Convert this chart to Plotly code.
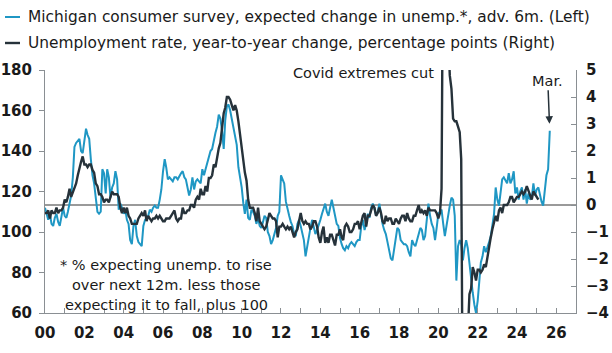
import pandas as pd
import plotly.graph_objects as go

# ---------------- data ----------------
# Michigan survey: expected change in unemployment (index, left axis), advanced 6 months
mich_2000 = [112, 108, 106, 109, 104, 103, 107, 109, 105, 103, 108, 112]
mich_2001 = [108, 107, 110, 114, 118, 127, 142, 144, 145, 146, 140, 139]
mich_2002 = [145, 151, 148, 146, 136, 128, 124, 116, 110, 109, 110, 131]
mich_2003 = [129, 119, 131, 127, 117, 122, 124, 130, 126, 111, 114, 112]
mich_2004 = [109, 111, 106, 104, 96, 94, 103, 106, 98, 95, 94, 93]
mich_2005 = [103, 106, 107, 108, 111, 110, 112, 113, 112, 112, 116, 121]
mich_2006 = [130, 136, 132, 126, 127, 126, 125, 127, 127, 126, 128, 129]
mich_2007 = [130, 127, 126, 122, 118, 121, 127, 121, 125, 126, 125, 124]
mich_2008 = [131, 128, 131, 134, 136, 140, 141, 146, 149, 152, 158, 156]
mich_2009 = [150, 141, 155, 162, 163, 160, 156, 152, 147, 143, 132, 128]
mich_2010 = [122, 114, 109, 116, 107, 106, 111, 110, 108, 104, 107, 103]
mich_2011 = [102, 105, 108, 107, 100, 98, 94, 96, 99, 102, 108, 110]
mich_2012 = [128, 126, 124, 115, 111, 108, 105, 103, 99, 98, 104, 106]
mich_2013 = [103, 100, 96, 88, 93, 96, 102, 106, 103, 99, 101, 103]
mich_2014 = [106, 109, 112, 114, 110, 108, 112, 116, 112, 108, 104, 103]
mich_2015 = [97, 94, 92, 91, 93, 92, 94, 95, 94, 93, 95, 96]
mich_2016 = [96, 103, 106, 101, 104, 109, 107, 112, 114, 112, 108, 110]
mich_2017 = [114, 108, 104, 101, 99, 95, 90, 87, 86, 92, 96, 102]
mich_2018 = [101, 96, 95, 94, 94, 93, 90, 88, 96, 94, 93, 96]
mich_2019 = [100, 102, 101, 96, 98, 106, 114, 108, 104, 102, 96, 102]
mich_2020 = [109, 110, 111, 104, 98, 103, 109, 113, 117, 116, 108, 76]
mich_2021 = [93, 96, 94, 86, 92, 96, 92, 84, 78, 70, 64, 60]
mich_2022 = [66, 76, 85, 88, 93, 90, 92, 95, 98, 104, 109, 122]
mich_2023 = [116, 113, 118, 126, 127, 125, 124, 129, 124, 126, 130, 119]
mich_2024 = [122, 116, 120, 122, 116, 121, 114, 119, 116, 117, 124, 118]
mich_2025 = [121, 122, 118, 115, 113, 121, 128, 131, 150]

# Unemployment rate, year-to-year change, percentage points (right axis)
unemp_2000 = [-0.3, -0.3, -0.2, -0.5, -0.2, -0.3, -0.3, -0.1, -0.3, -0.2, -0.2, -0.1]
unemp_2001 = [0.2, 0.1, 0.3, 0.6, 0.3, 0.5, 0.6, 0.8, 1.1, 1.4, 1.6, 1.8]
unemp_2002 = [1.5, 1.5, 1.4, 1.5, 1.5, 1.3, 1.2, 0.8, 0.7, 0.4, 0.4, 0.3]
unemp_2003 = [0.1, 0.2, 0.2, 0.1, 0.3, 0.5, 0.4, 0.4, 0.4, 0.3, -0.1, -0.3]
unemp_2004 = [-0.1, -0.3, -0.1, -0.4, -0.5, -0.7, -0.7, -0.7, -0.7, -0.5, -0.4, -0.3]
unemp_2005 = [-0.4, -0.2, -0.6, -0.4, -0.5, -0.6, -0.5, -0.5, -0.4, -0.5, -0.4, -0.5]
unemp_2006 = [-0.6, -0.6, -0.5, -0.5, -0.5, -0.4, -0.3, -0.2, -0.5, -0.6, -0.5, -0.5]
unemp_2007 = [-0.1, -0.3, -0.3, -0.2, -0.2, 0.0, 0.0, -0.1, 0.2, 0.3, 0.2, 0.6]
unemp_2008 = [0.4, 0.4, 0.7, 0.5, 1.0, 1.0, 1.1, 1.5, 1.4, 1.8, 2.1, 2.3]
unemp_2009 = [2.8, 3.4, 3.6, 4.0, 4.0, 3.9, 3.7, 3.5, 3.7, 3.5, 3.1, 2.6]
unemp_2010 = [2.0, 1.5, 1.2, 0.9, 0.2, -0.1, -0.1, -0.1, -0.3, -0.6, -0.1, -0.6]
unemp_2011 = [-0.7, -0.8, -0.9, -0.8, -0.6, -0.3, -0.4, -0.5, -0.5, -0.6, -1.2, -0.8]
unemp_2012 = [-0.8, -0.7, -0.8, -0.9, -0.8, -0.9, -0.8, -1.0, -1.2, -1.0, -0.9, -0.6]
unemp_2013 = [-0.3, -0.6, -0.7, -0.6, -0.7, -0.7, -0.9, -0.8, -0.6, -0.6, -0.8, -1.2]
unemp_2014 = [-1.4, -1.0, -0.8, -1.4, -1.2, -1.4, -1.1, -1.1, -1.3, -1.5, -1.1, -1.1]
unemp_2015 = [-0.9, -1.2, -1.3, -0.8, -0.7, -0.8, -1.0, -1.0, -0.9, -0.7, -0.7, -0.6]
unemp_2016 = [-0.9, -0.6, -0.4, -0.3, -0.8, -0.4, -0.4, -0.2, 0.0, -0.1, -0.4, -0.3]
unemp_2017 = [-0.1, -0.3, -0.6, -0.7, -0.4, -0.6, -0.5, -0.5, -0.7, -0.7, -0.5, -0.6]
unemp_2018 = [-0.7, -0.5, -0.4, -0.4, -0.6, -0.3, -0.5, -0.6, -0.6, -0.4, -0.4, -0.2]
unemp_2019 = [0.0, -0.3, -0.2, -0.3, -0.2, -0.4, -0.1, -0.2, -0.2, -0.2, -0.2, -0.3]
unemp_2020 = [-0.5, -0.3, 0.6, 11.1, 9.6, 7.4, 6.5, 4.8, 4.3, 3.2, 3.1, 3.1]
unemp_2021 = [2.9, 2.7, 1.7, -8.7, -7.4, -5.1, -4.8, -3.3, -3.1, -2.3, -2.5, -2.8]
unemp_2022 = [-2.4, -2.4, -2.5, -2.4, -2.2, -2.3, -1.9, -1.5, -1.2, -0.9, -0.6, -0.4]
unemp_2023 = [-0.6, -0.2, -0.1, -0.3, 0.0, 0.0, 0.0, 0.1, 0.3, 0.3, 0.1, 0.2]
unemp_2024 = [0.3, 0.3, 0.4, 0.5, 0.4, 0.5, 0.7, 0.5, 0.3, 0.2, 0.5, 0.4]
unemp_2025 = [0.3, 0.2]

tick_years = [2000, 2002, 2004, 2006, 2008, 2010, 2012, 2014, 2016, 2018, 2020, 2022, 2024, 2026]
tick_labels = ["00", "02", "04", "06", "08", "10", "12", "14", "16", "18", "20", "22", "24", "26"]

mich_name = "Michigan consumer survey, expected change in unemp.*, adv. 6m. (Left)"
unemp_name = "Unemployment rate, year-to-year change, percentage points (Right)"
footnote_lines = ["* % expecting unemp. to rise", "over next 12m. less those",
                  "expecting it to fall, plus 100"]

# ---------------- assemble ----------------
mich = sum([mich_2000, mich_2001, mich_2002, mich_2003, mich_2004, mich_2005, mich_2006,
            mich_2007, mich_2008, mich_2009, mich_2010, mich_2011, mich_2012, mich_2013,
            mich_2014, mich_2015, mich_2016, mich_2017, mich_2018, mich_2019, mich_2020,
            mich_2021, mich_2022, mich_2023, mich_2024, mich_2025], [])
unemp = sum([unemp_2000, unemp_2001, unemp_2002, unemp_2003, unemp_2004, unemp_2005,
             unemp_2006, unemp_2007, unemp_2008, unemp_2009, unemp_2010, unemp_2011,
             unemp_2012, unemp_2013, unemp_2014, unemp_2015, unemp_2016, unemp_2017,
             unemp_2018, unemp_2019, unemp_2020, unemp_2021, unemp_2022, unemp_2023,
             unemp_2024, unemp_2025], [])
mich_dates = pd.date_range("2000-01-01", periods=len(mich), freq="MS")
unemp_dates = pd.date_range("2000-01-01", periods=len(unemp), freq="MS")

BLUE = "#1f97c4"
DARK = "#26323a"
TXT = "#1a1a1a"
AXC = "#8a8f93"
FONT = "DejaVu Sans"

W, H = 612, 353
ML, MR, MT, MB = 45, 36, 70, 40
PW, PH = W - ML - MR, H - MT - MB


def px(xp):
    return (xp - ML) / PW


def py(yp):
    return (H - MB - yp) / PH


fig = go.Figure()
fig.add_trace(go.Scatter(x=unemp_dates, y=unemp, yaxis="y2", mode="lines",
                         line=dict(color=DARK, width=2.4), name=unemp_name, showlegend=False))
fig.add_trace(go.Scatter(x=mich_dates, y=mich, yaxis="y", mode="lines",
                         line=dict(color=BLUE, width=2), name=mich_name, showlegend=False))

annotations = [
    dict(x=px(26), y=py(17), xref="paper", yref="paper", text=mich_name, showarrow=False,
         xanchor="left", yanchor="middle", font=dict(size=15.4, color=TXT, family=FONT)),
    dict(x=px(26), y=py(43), xref="paper", yref="paper", text=unemp_name, showarrow=False,
         xanchor="left", yanchor="middle", font=dict(size=15.4, color=TXT, family=FONT)),
    dict(x=px(363), y=py(73), xref="paper", yref="paper", text="Covid extremes cut",
         showarrow=False, xanchor="center", yanchor="middle",
         font=dict(size=14.5, color=TXT, family=FONT)),
    dict(x=mich_dates[-1], y=mich[-1], xref="x", yref="y", text="Mar.", showarrow=True,
         ax=-2, ay=-50, arrowhead=2, arrowsize=1, arrowwidth=1.5, arrowcolor=DARK,
         standoff=7, font=dict(size=14.5, color=TXT, family=FONT)),
]
for i, line in enumerate(footnote_lines):
    annotations.append(dict(x=px(166), y=py(265 + 20 * i), xref="paper", yref="paper",
                            text=line, showarrow=False, xanchor="center", yanchor="middle",
                            font=dict(size=14.5, color=TXT, family=FONT)))

shapes = [
    dict(type="line", xref="paper", yref="paper", x0=px(5), x1=px(20), y0=py(17), y1=py(17),
         line=dict(color=BLUE, width=2)),
    dict(type="line", xref="paper", yref="paper", x0=px(5), x1=px(20), y0=py(43), y1=py(43),
         line=dict(color=DARK, width=2.4)),
]

tickfont = dict(size=15, color=TXT, family=FONT, weight="bold")

fig.update_layout(
    width=W, height=H, autosize=False,
    margin=dict(l=ML, r=MR, t=MT, b=MB, pad=0),
    paper_bgcolor="white", plot_bgcolor="white",
    font=dict(family=FONT, color=TXT, size=16),
    showlegend=False,
    annotations=annotations, shapes=shapes,
    xaxis=dict(type="date", range=["2000-01-01", "2027-01-01"], automargin=False,
               tickvals=[pd.Timestamp(f"{y}-01-01") for y in tick_years], ticktext=tick_labels,
               ticks="inside", ticklen=5, tickcolor=AXC, showline=True, linecolor=AXC,
               linewidth=1, showgrid=False, zeroline=False, ticklabelstandoff=6,
               tickfont=tickfont,
               minor=dict(ticks="inside", ticklen=5, tickcolor=AXC, dtick="M12",
                          tick0="2000-01-01", showgrid=False)),
    yaxis=dict(range=[60, 180], tickvals=[60, 80, 100, 120, 140, 160, 180], automargin=False,
               ticks="outside", ticklen=5, tickcolor=AXC, showline=True, linecolor=AXC,
               linewidth=1, showgrid=False, zeroline=False, ticklabelstandoff=4,
               tickfont=tickfont),
    yaxis2=dict(range=[-4, 5], dtick=1, overlaying="y", side="right", automargin=False,
                ticks="inside", ticklen=5, tickcolor=AXC, showline=True, linecolor=AXC,
                linewidth=1, showgrid=False, zeroline=True, zerolinecolor="#9a9a9a",
                zerolinewidth=1.5, ticklabelstandoff=6,
                tickfont=tickfont),
)

fig.write_html("out.html")
